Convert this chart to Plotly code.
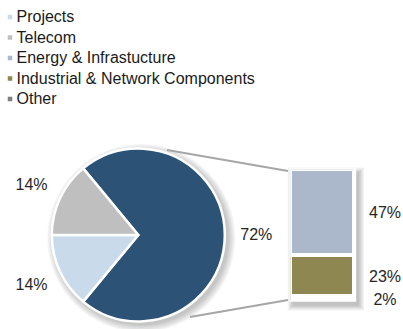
import numpy as np
import plotly.graph_objects as go

# ---------------- data ----------------
legend_labels = ["Projects", "Telecom", "Energy & Infrastucture",
                 "Industrial & Network Components", "Other"]
legend_colors = ["#C9DBEA", "#BFBFBF", "#ABB8CC", "#8F8752", "#7F7F7F"]

pie_labels = ["Energy, Industrial & Other", "Projects", "Telecom"]
pie_values = [72, 14, 14]
pie_colors = ["#2C5276", "#C9DBEA", "#BFBFBF"]

bar_labels = ["Other", "Industrial & Network Components", "Energy & Infrastucture"]  # bottom -> top
bar_values = [2, 23, 47]
bar_colors = ["#7F7F7F", "#8F8752", "#ABB8CC"]

# ---------------- layout constants (pixels) ----------------
W, H = 403, 329
CX, CY, R = 138.3, 235.0, 86.5
LABEL_R = 118
FONT = "Liberation Sans, Arial, sans-serif"
TXT = "#262626"
BAR_L, BAR_R = 290.7, 355.0          # bar edges in px
UNIT = BAR_R - BAR_L                 # px per bar-width unit

fig = go.Figure()

# pie
total = sum(pie_values)
rotation = 270 + 360 * pie_values[2] / total - 360
fig.add_trace(go.Pie(
    labels=pie_labels, values=pie_values, sort=False, direction="clockwise",
    rotation=rotation, marker=dict(colors=pie_colors, line=dict(color="white", width=2.5)),
    textinfo="none", hoverinfo="label+percent", showlegend=False,
    domain=dict(x=[(CX - R) / W, (CX + R) / W], y=[(H - CY - R) / H, (H - CY + R) / H]),
))

# pie labels placed along slice mid-angles
cum = np.cumsum([0] + pie_values[:-1])
mid = rotation + 360 * (cum + np.array(pie_values) / 2) / total
th = np.radians(mid)
fig.add_trace(go.Scatter(
    x=CX + LABEL_R * np.sin(th), y=CY - LABEL_R * np.cos(th) + 1,
    text=[f"{v}%" for v in pie_values], mode="text", textposition="middle center",
    textfont=dict(family=FONT, size=16, color=TXT), xaxis="x", yaxis="y",
    showlegend=False, hoverinfo="skip", cliponaxis=False,
))

# legend built as a small list
idx = np.arange(len(legend_labels))
fig.add_trace(go.Scatter(
    x=[10] * len(idx), y=17 + 20.5 * idx, mode="markers",
    marker=dict(symbol="square", size=4.5, color=legend_colors),
    xaxis="x", yaxis="y", showlegend=False, hoverinfo="skip", cliponaxis=False,
))
fig.add_trace(go.Scatter(
    x=[16.5] * len(idx), y=18 + 20.5 * idx, mode="text", text=legend_labels,
    textposition="middle right", textfont=dict(family=FONT, size=16, color="#1a1a1a"),
    xaxis="x", yaxis="y", showlegend=False, hoverinfo="skip", cliponaxis=False,
))

# stacked bar
for lab, v, c in zip(bar_labels, bar_values, bar_colors):
    fig.add_trace(go.Bar(
        x=[0], y=[v], width=1, name=lab, marker=dict(color=c, line=dict(color="white", width=3.5)),
        xaxis="x2", yaxis="y2", showlegend=False,
    ))
bcum = np.cumsum([0] + bar_values[:-1])
fig.add_trace(go.Scatter(
    x=[0.967] * len(bar_values), y=bcum + np.array(bar_values) / 2 - 1,
    text=[f"{v}%" for v in bar_values], mode="text", textposition="middle center",
    textfont=dict(family=FONT, size=16, color=TXT), xaxis="x2", yaxis="y2",
    showlegend=False, hoverinfo="skip", cliponaxis=False,
))

# shadows and connector lines
shapes = []
for k in range(6):
    rr = R + 1 + k * 1.3
    shapes.append(dict(type="circle", xref="x", yref="y", layer="below",
                       x0=CX + 3 - rr, x1=CX + 3 + rr, y0=CY + 3 - rr, y1=CY + 3 + rr,
                       fillcolor="rgba(0,0,0,0.04)", line=dict(width=0)))
BX0, BX1, BY0, BY1 = 289.5, 356.2, 168.3, 301.7
for k in range(5):
    e = k * 1.2
    shapes.append(dict(type="rect", xref="x", yref="y", layer="below",
                       x0=BX0 + 3 - e, x1=BX1 + 3 + e, y0=BY0 + 4 - e, y1=BY1 + 4 + e,
                       fillcolor="rgba(0,0,0,0.05)", line=dict(width=0)))
shapes.append(dict(type="rect", xref="x", yref="y", layer="below",
                   x0=BX0, x1=BX1, y0=BY0, y1=BY1, fillcolor="white", line=dict(width=0)))
for (x0, y0, x1, y1) in [(167, 150, 288, 171), (190, 317, 288, 300)]:
    shapes.append(dict(type="line", xref="x", yref="y", layer="below",
                       x0=x0, y0=y0, x1=x1, y1=y1, line=dict(color="#A6A6A6", width=2)))

ax_off = dict(visible=False, showgrid=False, zeroline=False, fixedrange=True)
fig.update_layout(
    width=W, height=H, margin=dict(l=0, r=0, t=0, b=0),
    paper_bgcolor="white", plot_bgcolor="rgba(0,0,0,0)",
    barmode="stack", bargap=0, shapes=shapes, showlegend=False,
    xaxis=dict(range=[0, W], domain=[0, 1], anchor="y", **ax_off),
    yaxis=dict(range=[H, 0], domain=[0, 1], anchor="x", **ax_off),
    xaxis2=dict(range=[-0.5, -0.5 + (W - BAR_L) / UNIT], domain=[BAR_L / W, 1],
                anchor="y2", **ax_off),
    yaxis2=dict(range=[0, 72], domain=[(H - 300.5) / H, (H - 169.5) / H], anchor="x2", **ax_off),
)

fig.write_html("out.html")
